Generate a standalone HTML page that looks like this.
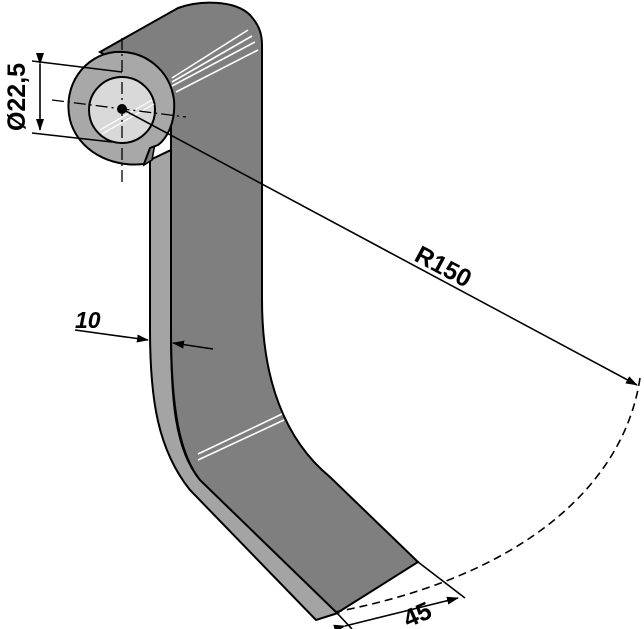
<!DOCTYPE html>
<html><head><style>html,body{margin:0;padding:0;background:#fff}svg{display:block}</style></head>
<body>
<svg width="644" height="629" viewBox="0 0 644 629" xmlns="http://www.w3.org/2000/svg">
<defs>
<marker id="a" markerWidth="12" markerHeight="8" refX="11" refY="4" orient="auto" markerUnits="userSpaceOnUse"><path d="M0,0 L12,4 L0,8z" fill="#000"/></marker>
</defs>
<path d="M150,160 L150,330 C150,400 158,450 190,490 L316,620 L338,613 L200,480 C175,450 171,400 171,330 L171,150 Z" fill="#a4a4a4" stroke="#000" stroke-width="2"/>
<path d="M100,52 L178,8 C200,0 235,0 250,15 C258,24 262,32 262,45 L262,300 C262,380 285,440 330,477 L418,562 L337,613 L200,480 C180,455 171,410 171,330 L171,95 Z" fill="#7f7f7f" stroke="#000" stroke-width="2"/>
<g stroke="#fff" stroke-width="1.6">
<line x1="172" y1="78" x2="248" y2="30"/><line x1="172" y1="82" x2="252" y2="36"/><line x1="172" y1="86" x2="255" y2="42"/><line x1="176" y1="92" x2="258" y2="50"/>
<line x1="198" y1="454" x2="282" y2="414"/><line x1="198" y1="460" x2="284" y2="420"/>
</g>
<path d="M150,140 L156,138 L152,160 L144,165 Z" fill="#7f7f7f" stroke="#000" stroke-width="1.5"/>
<path d="M144,164 C110,168 78,150 70,120 C62,85 85,55 115,52 C145,50 170,70 174,100 C176,125 165,140 158,145 L150,148 Z" fill="#a8a8a8" stroke="#000" stroke-width="2"/>
<circle cx="122" cy="110" r="33" fill="#d9d9d9" stroke="#000" stroke-width="2"/>
<g stroke="#fff" stroke-width="1.2"><line x1="100" y1="130" x2="152" y2="100"/><line x1="102" y1="134" x2="154" y2="104"/></g>
<g stroke="#000" stroke-width="1.3" stroke-dasharray="12,4,2,4" fill="none">
<line x1="122" y1="38" x2="122" y2="182"/>
<line x1="52" y1="100" x2="186" y2="117"/>
</g>
<circle cx="122" cy="109" r="5" fill="#000"/>
<g stroke="#000" stroke-width="1.6" fill="none">
<line x1="32" y1="61" x2="122" y2="72"/>
<line x1="32" y1="133" x2="112" y2="142"/>
<line x1="40" y1="64" x2="40" y2="130" marker-start="url(#a)" marker-end="url(#a)"/>
<line x1="122" y1="109" x2="637" y2="385" marker-end="url(#a)"/>
<path d="M640,378 C625,480 530,575 335,612" stroke-dasharray="8,5"/>
<line x1="75" y1="330" x2="148" y2="340" marker-end="url(#a)"/>
<line x1="213" y1="349" x2="173" y2="343" marker-end="url(#a)"/>
<line x1="418" y1="562" x2="465" y2="598"/>
<line x1="337" y1="613" x2="352" y2="629"/>
<line x1="345" y1="626" x2="458" y2="598" marker-start="url(#a)" marker-end="url(#a)"/>
</g>
<g font-family="Liberation Sans, sans-serif" font-weight="bold" font-size="25" fill="#000">
<text transform="translate(25,97) rotate(-90)" text-anchor="middle">Ø22,5</text>
<text x="75" y="328" font-style="italic" font-size="23">10</text>
<text transform="translate(413,260) rotate(28)">R150</text>
<text transform="translate(408,628) rotate(-24)">45</text>
</g>
</svg>
</body></html>
